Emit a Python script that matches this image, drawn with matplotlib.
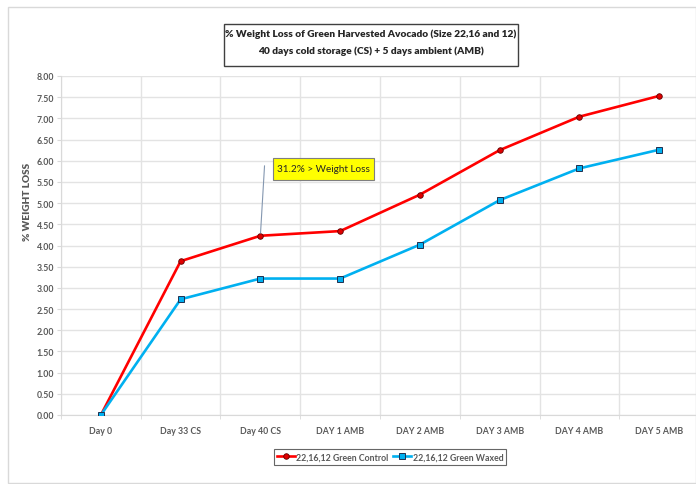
import matplotlib
matplotlib.use("Agg")
import matplotlib.pyplot as plt
from matplotlib.patches import Rectangle

plt.rcParams['font.family'] = ['Lato', 'DejaVu Sans']

categories = ['Day 0', 'Day 33 CS', 'Day 40 CS', 'DAY 1 AMB', 'DAY 2 AMB',
              'DAY 3 AMB', 'DAY 4 AMB', 'DAY 5 AMB']
control = [0.00, 3.63, 4.23, 4.34, 5.20, 6.25, 7.04, 7.53]
waxed = [0.00, 2.73, 3.22, 3.22, 4.02, 5.07, 5.82, 6.26]
yticks = [i * 0.5 for i in range(17)]

W, H = 696, 485
fig = plt.figure(figsize=(W / 100, H / 100), dpi=100)

def px(x, y):
    # pixel coords (top-left origin) -> figure fraction
    return x / W, 1 - y / H

# outer chart border
fig.patches.append(Rectangle(px(8, 484), (W - 8) / W, (484 - 8) / H,
                             transform=fig.transFigure, fill=False,
                             edgecolor='#d9d9d9', linewidth=1))

l, t = 61, 77
r, b = 699, 416
ax = fig.add_axes([l / W, 1 - b / H, (r - l) / W, (b - t) / H])

x = list(range(len(categories)))
ax.plot(x, control, color='#ff0000', lw=1.9, marker='o', ms=4,
        mfc='#e00000', mec='#600000', mew=0.6, label='22,16,12 Green Control', zorder=3)
ax.plot(x, waxed, color='#00b0f0', lw=1.9, marker='s', ms=3.8,
        mfc='#00b0f0', mec='#1f3050', mew=0.7, label='22,16,12 Green Waxed', zorder=4)

ax.set_xlim(-0.5, len(categories) - 0.5)
ax.set_ylim(0, 8)
ax.set_yticks(yticks)
ax.set_yticklabels([f'{v:.2f}' for v in yticks])
ax.set_xticks(x)
ax.set_xticklabels(categories)
ax.set_xticks([i + 0.5 for i in range(-1, len(categories))], minor=True)
ax.grid(axis='y', which='major', color='#e3e3e3', lw=1)
ax.grid(axis='x', which='minor', color='#e3e3e3', lw=1)
ax.set_axisbelow(True)
for s in ['top', 'right']:
    ax.spines[s].set_visible(False)
for s in ['left', 'bottom']:
    ax.spines[s].set_color('#d9d9d9')
ax.tick_params(axis='both', which='major', labelsize=6.3, colors='#595959')
ax.tick_params(axis='y', length=3, color='#d9d9d9', pad=2)
ax.tick_params(axis='x', which='major', length=0, pad=8)
ax.tick_params(axis='x', which='minor', length=3, color='#d9d9d9')
for lab in ax.get_xticklabels() + ax.get_yticklabels():
    lab.set_fontweight('bold')

fig.text(*px(28, 202), '% WEIGHT LOSS', rotation=90, ha='center', va='center',
         fontsize=7.2, fontweight='heavy', color='#595959')

# title box
fig.patches.append(Rectangle(px(224, 67), (518 - 224) / W, (67 - 25) / H,
                             transform=fig.transFigure, fill=False,
                             edgecolor='#404040', linewidth=1))
fig.text(*px(371, 34), '% Weight Loss of Green Harvested Avocado (Size 22,16 and 12)',
         ha='center', va='center', fontsize=7.3, fontweight='heavy', color='#262626')
fig.text(*px(371, 51), '40 days cold storage (CS) + 5 days ambient (AMB)',
         ha='center', va='center', fontsize=7.3, fontweight='heavy', color='#262626')

# callout
ax.annotate('', xy=(2, control[2]), xytext=px(264.7, 164), textcoords='figure fraction',
            arrowprops=dict(arrowstyle='-', color='#8497b0', lw=0.8))
fig.patches.append(Rectangle(px(273, 181), (374 - 273) / W, (181 - 159) / H,
                             transform=fig.transFigure, facecolor='#ffff00',
                             edgecolor='#7f7f7f', linewidth=0.8))
fig.text(*px(323.5, 170), '31.2% > Weight Loss', ha='center', va='center',
         fontsize=7.2, color='#262626')

leg = fig.legend(loc='center', bbox_to_anchor=px(390, 458), ncol=2, frameon=True,
                 fontsize=6.3, handlelength=2.1, handletextpad=0.15, columnspacing=0.5,
                 borderpad=0.35, fancybox=False, edgecolor='#404040')
leg.get_frame().set_linewidth(0.8)
for txt in leg.get_texts():
    txt.set_fontweight('bold')
    txt.set_color('#595959')

fig.savefig('out.png', dpi=100)
